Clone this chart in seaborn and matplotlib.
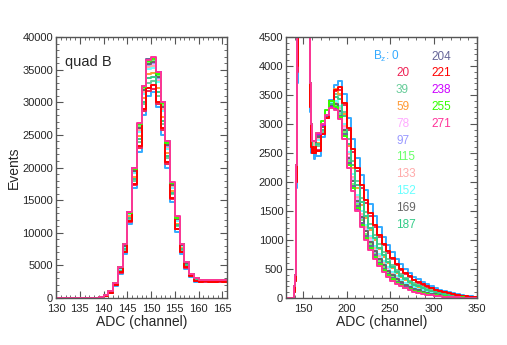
import numpy as np
import pandas as pd
import matplotlib
matplotlib.use("Agg")
import matplotlib.pyplot as plt
from matplotlib.ticker import MultipleLocator
import seaborn as sns

# B_z settings and their colours
bz_values = [0, 20, 39, 59, 78, 97, 115, 133, 152, 169, 187, 204, 221, 238, 255, 271]
bz_colors = ["#33aaff", "#ee2255", "#66cc99", "#ff9933", "#ffaaff", "#9999ff",
             "#66ff66", "#ffaaaa", "#66ffff", "#666666", "#33cc88", "#666699",
             "#ff0000", "#cc00ff", "#33ff00", "#ff3399"]

# ADC 130..165, 1-channel bins, counts in units of 100 events
low_0 = [0, 0, 0, 0, 0, 0, 0, 0, 0, 1, 3, 8, 19, 37, 68, 114, 168, 224, 280, 310, 315, 292, 250, 199, 147, 101, 68, 45, 32, 25, 25, 25, 24, 25, 25, 25]
low_20 = [0, 0, 0, 0, 0, 0, 0, 0, 0, 1, 3, 8, 20, 39, 70, 117, 173, 230, 287, 318, 321, 298, 257, 205, 152, 105, 70, 46, 33, 26, 25, 25, 25, 25, 25, 25]
low_39 = [0, 0, 0, 0, 0, 0, 0, 0, 0, 1, 3, 9, 21, 41, 74, 121, 180, 239, 297, 329, 333, 310, 267, 214, 159, 110, 73, 49, 34, 27, 26, 26, 26, 26, 26, 26]
low_59 = [0, 0, 0, 0, 0, 0, 0, 0, 0, 1, 4, 9, 21, 43, 76, 125, 186, 248, 306, 343, 345, 322, 277, 222, 164, 114, 76, 51, 35, 28, 26, 26, 26, 26, 26, 26]
low_78 = [0, 0, 0, 0, 0, 0, 0, 0, 0, 1, 4, 10, 22, 45, 79, 129, 193, 258, 316, 355, 358, 336, 291, 232, 171, 119, 80, 53, 36, 29, 27, 27, 26, 27, 27, 26]
low_97 = [0, 0, 0, 0, 0, 0, 0, 0, 0, 1, 4, 10, 22, 46, 80, 129, 194, 260, 318, 357, 360, 337, 292, 233, 172, 120, 80, 54, 36, 29, 27, 27, 27, 26, 27, 27]
low_115 = [0, 0, 0, 0, 0, 0, 0, 0, 0, 1, 4, 10, 23, 47, 81, 131, 197, 263, 321, 361, 364, 342, 296, 236, 175, 122, 81, 54, 37, 30, 27, 27, 27, 27, 27, 27]
low_133 = [0, 0, 0, 0, 0, 0, 0, 0, 0, 1, 4, 9, 22, 45, 79, 128, 192, 257, 315, 354, 356, 333, 289, 230, 171, 119, 79, 53, 36, 29, 27, 26, 27, 26, 26, 27]
low_152 = [0, 0, 0, 0, 0, 0, 0, 0, 0, 1, 4, 9, 22, 44, 78, 128, 191, 255, 313, 351, 353, 331, 287, 228, 169, 118, 79, 52, 36, 29, 26, 26, 26, 26, 26, 26]
low_169 = [0, 0, 0, 0, 0, 0, 0, 0, 0, 1, 4, 10, 22, 46, 80, 130, 195, 261, 319, 358, 361, 339, 293, 234, 173, 121, 81, 54, 36, 29, 27, 27, 27, 27, 26, 27]
low_187 = [0, 0, 0, 0, 0, 0, 0, 0, 0, 1, 4, 9, 21, 42, 75, 123, 183, 244, 301, 337, 339, 316, 272, 218, 161, 112, 75, 50, 35, 28, 26, 26, 26, 26, 26, 26]
low_204 = [0, 0, 0, 0, 0, 0, 0, 0, 0, 2, 4, 10, 23, 48, 83, 132, 199, 267, 325, 366, 368, 346, 301, 240, 177, 124, 83, 55, 37, 30, 27, 27, 27, 27, 27, 27]
low_221 = [0, 0, 0, 0, 0, 0, 0, 0, 0, 1, 3, 8, 20, 40, 71, 118, 175, 233, 289, 322, 326, 301, 260, 208, 153, 106, 71, 47, 33, 26, 25, 26, 25, 25, 26, 25]
low_238 = [0, 0, 0, 0, 0, 0, 0, 0, 0, 2, 4, 10, 23, 48, 83, 132, 199, 267, 324, 365, 368, 346, 300, 239, 177, 124, 82, 55, 37, 30, 27, 27, 27, 27, 27, 27]
low_255 = [0, 0, 0, 0, 0, 0, 0, 0, 0, 2, 4, 10, 23, 48, 82, 131, 198, 266, 323, 363, 366, 344, 299, 238, 176, 123, 82, 55, 37, 30, 27, 27, 27, 27, 27, 27]
low_271 = [0, 0, 0, 0, 0, 0, 0, 0, 0, 2, 4, 10, 23, 48, 83, 132, 199, 268, 325, 365, 369, 347, 301, 240, 178, 125, 83, 55, 37, 30, 27, 27, 27, 27, 27, 27]

# ADC 165..350, 5-channel bins, events
tail_0 = [2450, 2780, 3100, 3420, 3680, 3750, 3520, 3100, 2750, 2420, 2120, 1860, 1620, 1410, 1220, 1060, 910, 790, 680, 585, 500, 430, 370, 320, 278, 240, 205, 172, 145, 120, 98, 80, 63, 50, 38, 28, 20]
tail_20 = [2550, 2835, 3112, 3385, 3572, 3582, 3328, 2888, 2525, 2190, 1895, 1645, 1420, 1225, 1052, 908, 775, 668, 571, 489, 416, 356, 305, 263, 227, 195, 165, 138, 116, 96, 78, 64, 50, 40, 30, 22, 16]
tail_39 = [2622, 2870, 3118, 3358, 3510, 3496, 3205, 2738, 2370, 2020, 1727, 1487, 1275, 1093, 927, 795, 676, 573, 489, 414, 350, 301, 253, 220, 188, 160, 133, 110, 91, 73, 58, 47, 36, 29, 22, 16, 11]
tail_59 = [2675, 2900, 3150, 3400, 3600, 3520, 3180, 2625, 2250, 1900, 1610, 1375, 1170, 995, 840, 715, 605, 510, 432, 365, 307, 262, 220, 190, 161, 136, 113, 93, 77, 61, 49, 39, 30, 24, 18, 13, 9]
tail_78 = [2762, 2950, 3138, 3310, 3350, 3240, 2925, 2438, 2050, 1700, 1415, 1188, 995, 832, 695, 582, 488, 405, 339, 282, 236, 199, 165, 140, 116, 97, 80, 65, 53, 42, 34, 27, 21, 16, 12, 9, 7]
tail_97 = [2780, 2960, 3140, 3304, 3330, 3208, 2890, 2400, 2010, 1660, 1376, 1150, 960, 800, 666, 556, 464, 384, 320, 266, 222, 186, 154, 130, 108, 89, 73, 60, 48, 38, 30, 24, 19, 14, 11, 8, 6]
tail_115 = [2797, 2970, 3142, 3298, 3310, 3176, 2855, 2362, 1970, 1620, 1337, 1112, 925, 767, 637, 529, 440, 363, 301, 249, 207, 173, 143, 120, 99, 82, 66, 54, 43, 35, 27, 22, 17, 13, 10, 7, 5]
tail_133 = [2745, 2940, 3135, 3316, 3370, 3272, 2960, 2475, 2090, 1740, 1454, 1225, 1030, 865, 724, 609, 511, 426, 357, 299, 250, 212, 176, 150, 125, 105, 86, 71, 58, 46, 37, 29, 23, 18, 13, 10, 7]
tail_152 = [2727, 2950, 3250, 3380, 3390, 3304, 2995, 2512, 2130, 1780, 1493, 1262, 1065, 897, 753, 635, 534, 447, 376, 315, 265, 224, 187, 160, 134, 113, 93, 77, 63, 50, 40, 32, 25, 19, 14, 11, 8]
tail_169 = [2770, 2955, 3160, 3320, 3340, 3220, 2905, 2420, 2025, 1675, 1390, 1160, 972, 810, 676, 565, 470, 390, 326, 270, 226, 190, 157, 132, 110, 91, 75, 61, 49, 39, 31, 25, 19, 15, 11, 8, 6]
tail_187 = [2657, 2890, 3122, 3346, 3470, 3432, 3135, 2662, 2290, 1940, 1649, 1412, 1205, 1028, 869, 742, 628, 531, 451, 381, 322, 275, 231, 200, 170, 144, 120, 99, 82, 65, 52, 42, 32, 26, 19, 14, 10]
tail_204 = [2815, 2980, 3145, 3292, 3290, 3144, 2820, 2325, 1930, 1580, 1298, 1075, 890, 735, 608, 503, 417, 342, 282, 233, 193, 160, 132, 110, 90, 74, 59, 48, 39, 31, 24, 19, 15, 11, 8, 6, 5]
tail_221 = [2530, 2824, 3110, 3392, 3594, 3640, 3366, 2930, 2570, 2236, 1940, 1688, 1460, 1262, 1086, 938, 802, 692, 593, 508, 433, 371, 318, 274, 237, 204, 173, 145, 122, 101, 82, 67, 53, 42, 32, 23, 17]
tail_238 = [2832, 2990, 3148, 3286, 3270, 3112, 2785, 2288, 1890, 1540, 1259, 1038, 855, 702, 579, 477, 394, 321, 264, 216, 179, 148, 121, 100, 81, 66, 53, 43, 34, 27, 21, 17, 13, 10, 7, 5, 4]
tail_255 = [2840, 3050, 3250, 3400, 3300, 3120, 2790, 2300, 1895, 1545, 1262, 1040, 858, 705, 580, 478, 395, 322, 265, 217, 180, 149, 122, 101, 82, 67, 54, 44, 35, 28, 22, 17, 13, 10, 7, 5, 4]
tail_271 = [2850, 3000, 3150, 3280, 3250, 3080, 2750, 2250, 1850, 1500, 1220, 1000, 820, 670, 550, 450, 370, 300, 245, 200, 165, 135, 110, 90, 72, 58, 46, 37, 29, 23, 18, 14, 11, 8, 6, 5, 4]

low_series = [low_0, low_20, low_39, low_59, low_78, low_97, low_115, low_133,
              low_152, low_169, low_187, low_204, low_221, low_238, low_255, low_271]
tail_series = [tail_0, tail_20, tail_39, tail_59, tail_78, tail_97, tail_115, tail_133,
               tail_152, tail_169, tail_187, tail_204, tail_221, tail_238, tail_255, tail_271]

low_edges = np.arange(130, 167)        # 36 bins of 1 channel
tail_edges = np.arange(165, 351, 5)    # 37 bins of 5 channels

rows_l, rows_r = [], []
for bz, lo, ta in zip(bz_values, low_series, tail_series):
    assert len(lo) == 36 and len(ta) == 37, bz
    lo = np.array(lo) * 100
    y = np.append(lo, lo[-1])
    for x, v in zip(low_edges, y):
        rows_l.append((bz, x, v))
    r_vals = np.concatenate([lo[:35], ta])
    r_edges = np.concatenate([low_edges[:35], tail_edges])
    y = np.append(r_vals, r_vals[-1])
    for x, v in zip(r_edges, y):
        rows_r.append((bz, x, v))

df_l = pd.DataFrame(rows_l, columns=["bz", "adc", "events"])
df_r = pd.DataFrame(rows_r, columns=["bz", "adc", "events"])
df_r["shown"] = df_r["events"].clip(upper=4500)

sns.set_style("ticks")
plt.rcParams["font.family"] = ["Liberation Sans", "DejaVu Sans"]
plt.rcParams["mathtext.fontset"] = "custom"
plt.rcParams["mathtext.rm"] = "Liberation Sans"

pal = dict(zip(bz_values, bz_colors))

fig = plt.figure(figsize=(5.07, 3.45), dpi=100)
axl = fig.add_axes([56 / 507, 47 / 345, 171 / 507, 261 / 345])
axr = fig.add_axes([286 / 507, 47 / 345, 191 / 507, 261 / 345])

sns.lineplot(data=df_l, x="adc", y="events", hue="bz", hue_order=bz_values, palette=pal,
             drawstyle="steps-post", estimator=None, lw=1.4, legend=False, ax=axl)
sns.lineplot(data=df_r, x="adc", y="shown", hue="bz", hue_order=bz_values, palette=pal,
             drawstyle="steps-post", estimator=None, lw=1.4, legend=False, ax=axr)

axl.set_xlim(130, 166)
axl.set_ylim(0, 40000)
axl.set_xticks(np.arange(130, 166, 5))
axl.xaxis.set_minor_locator(MultipleLocator(1))
axl.set_yticks(np.arange(0, 40001, 5000))
axl.yaxis.set_minor_locator(MultipleLocator(1000))
axl.set_xlabel("ADC (channel)", fontsize=10, labelpad=1)
axl.set_ylabel("Events", fontsize=10, labelpad=1)
axl.text(0.055, 0.905, "quad B", transform=axl.transAxes, fontsize=10.5, va="center")

axr.set_xlim(130, 350)
axr.set_ylim(0, 4500)
axr.set_xticks(np.arange(150, 351, 50))
axr.xaxis.set_minor_locator(MultipleLocator(10))
axr.set_yticks(np.arange(0, 4501, 500))
axr.yaxis.set_minor_locator(MultipleLocator(100))
axr.set_xlabel("ADC (channel)", fontsize=10, labelpad=1)
axr.set_ylabel("")

for ax in (axl, axr):
    ax.tick_params(which="both", direction="in", top=True, right=True,
                   labelsize=8, pad=2, color="#555555")
    ax.tick_params(axis="x", pad=4)
    ax.tick_params(which="major", length=5)
    ax.tick_params(which="minor", length=2.5)
    for s in ax.spines.values():
        s.set_color("#555555")
        s.set_linewidth(1)

# colour-coded B_z labels
axr.text(0.454, 0.925, r"B$_\mathrm{z}$: 0", color=bz_colors[0], transform=axr.transAxes,
         fontsize=8.5, va="center")
col1 = bz_values[1:11]
for i, bz in enumerate(col1):
    axr.text(0.576, 0.925 - 0.0644 * (i + 1), str(bz), color=pal[bz],
             transform=axr.transAxes, fontsize=8.5, va="center")
col2 = bz_values[11:]
for i, bz in enumerate(col2):
    axr.text(0.763, 0.925 - 0.0644 * i, str(bz), color=pal[bz],
             transform=axr.transAxes, fontsize=8.5, va="center")

fig.savefig("out.png", dpi=100)
